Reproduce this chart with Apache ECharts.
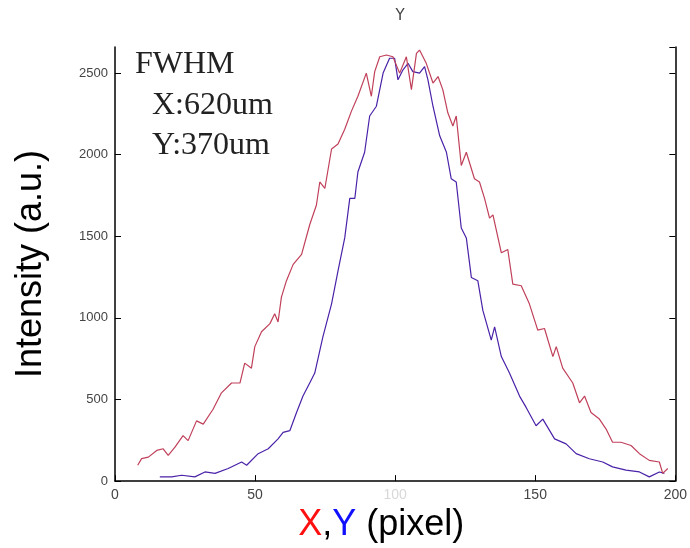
<!DOCTYPE html>
<html lang="en">
<head>
<meta charset="UTF-8">
<script src="https://cdn.jsdelivr.net/npm/echarts@6/dist/echarts.min.js"></script>
<style>
  html, body { margin: 0; padding: 0; background: #fff; }
  #main { width: 690px; height: 548px; }
</style>
</head>
<body>
<div id="main"></div>
<script>
// X profile (red)
var xPos = [8.1, 9.5, 11.9, 14.9, 17.2, 19.0, 21.4, 24.3, 26.1, 29.1, 31.5, 35.0, 38.0, 41.6, 44.6, 46.3, 48.7, 49.9, 52.3, 55.3,
  57.0, 58.2, 59.4, 61.2, 63.6, 66.6, 69.5, 71.9, 73.1, 74.9, 77.3, 79.6, 82.0, 84.4, 86.7, 89.7, 91.5, 92.7, 94.5, 96.9,
  99.2, 101.6, 104.0, 105.8, 107.6, 108.7, 111.1, 113.5, 115.3, 117.0, 118.8, 120.6, 121.8, 123.6, 125.4, 128.3, 130.1, 131.9, 133.7, 134.9,
  137.9, 140.2, 142.0, 145.0, 147.9, 150.9, 153.3, 156.3, 157.5, 159.8, 163.4, 165.8, 167.6, 169.9, 172.9, 175.3, 177.6, 180.6, 184.2, 187.2,
  190.7, 194.3, 195.5, 197.3];
var xIntensity = [97, 138, 147, 188, 198, 157, 208, 279, 248, 369, 349, 440, 541, 601, 601, 723, 692, 824, 915, 965,
  1025, 975, 1127, 1228, 1328, 1389, 1571, 1692, 1833, 1793, 2035, 2065, 2156, 2267, 2358, 2500, 2358, 2509, 2600, 2611,
  2600, 2500, 2600, 2399, 2621, 2641, 2560, 2439, 2479, 2399, 2257, 2176, 2237, 1934, 2015, 1853, 1833, 1732, 1611, 1631,
  1399, 1419, 1207, 1197, 1086, 925, 935, 763, 824, 692, 601, 480, 521, 420, 380, 319, 238, 238, 218, 168,
  127, 117, 47, 77];

// Y profile (blue)
var yPos = [16.0, 20.2, 23.8, 28.5, 32.1, 35.7, 40.4, 45.2, 47.0, 51.1, 54.7, 58.2, 60.0, 62.4, 64.8, 67.1, 69.5, 71.3, 74.2, 77.3,
  79.6, 82.0, 83.8, 85.6, 86.7, 89.1, 90.9, 93.3, 95.7, 98.0, 99.8, 101.0, 102.8, 104.6, 106.3, 108.7, 110.5, 111.7, 113.5, 115.9,
  118.3, 120.0, 121.8, 123.6, 125.4, 127.2, 129.5, 131.3, 134.3, 135.5, 137.9, 140.8, 144.4, 146.8, 150.3, 152.7, 156.9, 161.0, 164.6, 169.3,
  174.1, 177.6, 182.4, 187.2, 190.7, 194.3, 196.1];
var yIntensity = [26, 26, 36, 26, 56, 47, 77, 117, 97, 168, 198, 259, 299, 309, 420, 521, 601, 662, 884, 1086,
  1288, 1490, 1732, 1732, 1894, 2015, 2237, 2297, 2500, 2591, 2591, 2459, 2520, 2560, 2509, 2500, 2540, 2459, 2297, 2116,
  2015, 1853, 1833, 1551, 1490, 1248, 1228, 1046, 864, 945, 763, 662, 521, 450, 339, 380, 259, 228, 168, 137,
  117, 87, 67, 56, 26, 56, 47];

var labelFont = 'Liberation Sans Narrow, Arial Narrow, sans-serif';

function pairs(xs, ys) {
  var out = [];
  for (var i = 0; i < xs.length; i++) out.push([xs[i], ys[i]]);
  return out;
}

var myChart = echarts.init(document.getElementById('main'));

var option = {
  backgroundColor: '#fff',
  animation: false,
  title: {
    text: 'Y',
    left: 395,
    top: 4,
    textAlign: 'center',
    textStyle: { fontSize: 15, fontWeight: 'normal', color: '#444', fontFamily: 'DejaVu Sans' }
  },
  grid: { left: 115, right: 14, top: 47, bottom: 62 },
  xAxis: {
    type: 'value',
    min: 0,
    max: 200,
    interval: 50,
    name: '{r|X}{k|,}{b|Y}{k| (pixel)}',
    nameLocation: 'middle',
    nameGap: 20,
    nameTextStyle: {
      padding: [0, 28, 0, 0],
      rich: {
        r: { fontSize: 36, color: '#ff1010', fontFamily: 'Liberation Sans' },
        b: { fontSize: 36, color: '#1010ff', fontFamily: 'Liberation Sans' },
        k: { fontSize: 36, color: '#000', fontFamily: 'Liberation Sans' }
      }
    },
    axisLine: { show: true, lineStyle: { color: '#000', width: 1.5 } },
    axisTick: { show: true, inside: true, length: 6, lineStyle: { color: '#000' } },
    axisLabel: {
      fontSize: 14,
      fontFamily: labelFont,
      margin: 7,
      formatter: function (v) { return String(v); },
      color: function (v) { return v == 100 ? '#d8d8d8' : '#444'; }
    },
    splitLine: { show: false }
  },
  yAxis: [
    {
      type: 'value',
      min: 0,
      max: 2660,
      interval: 500,
      name: 'Intensity (a.u.)',
      nameLocation: 'middle',
      nameGap: 66,
      nameTextStyle: { fontSize: 36, color: '#000', fontFamily: 'Liberation Sans' },
      axisLine: { show: true, lineStyle: { color: '#000', width: 1.5 } },
      axisTick: { show: true, inside: true, length: 6, lineStyle: { color: '#000' } },
      axisLabel: {
        fontSize: 13,
        fontFamily: labelFont,
        color: '#444',
        margin: 7,
        showMaxLabel: false,
        formatter: function (v) { return v % 500 === 0 ? String(v) : ''; }
      },
      splitLine: { show: false }
    },
    {
      type: 'value',
      position: 'right',
      min: 0,
      max: 2660,
      interval: 500,
      axisLine: { show: true, lineStyle: { color: '#000', width: 1.5 } },
      axisTick: { show: true, inside: true, length: 6, lineStyle: { color: '#000' } },
      axisLabel: { show: false },
      splitLine: { show: false }
    }
  ],
  series: [
    {
      name: 'Y',
      type: 'line',
      data: pairs(yPos, yIntensity),
      showSymbol: false,
      lineStyle: { color: '#4a22a8', width: 1.2 },
      itemStyle: { color: '#4a22a8' }
    },
    {
      name: 'X',
      type: 'line',
      data: pairs(xPos, xIntensity),
      showSymbol: false,
      lineStyle: { color: '#c0405a', width: 1.2 },
      itemStyle: { color: '#c0405a' }
    }
  ],
  graphic: [
    { type: 'text', left: 135, top: 49, style: { text: 'FWHM', font: '32px "Liberation Serif"', fill: '#222' } },
    { type: 'text', left: 152, top: 90, style: { text: 'X:620um', font: '32px "Liberation Serif"', fill: '#222' } },
    { type: 'text', left: 152, top: 130, style: { text: 'Y:370um', font: '32px "Liberation Serif"', fill: '#222' } }
  ]
};

myChart.setOption(option);
</script>
</body>
</html>
